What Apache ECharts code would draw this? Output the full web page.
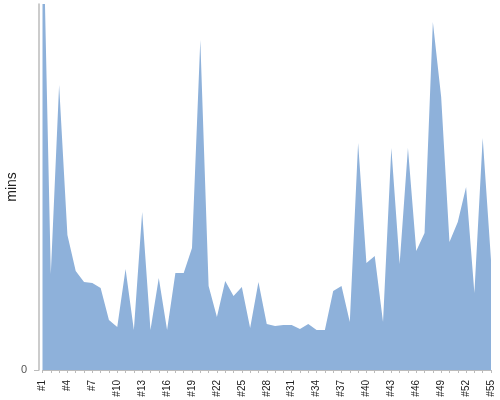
<!DOCTYPE html>
<html>
<head>
<meta charset="utf-8">
<script src="https://cdn.jsdelivr.net/npm/echarts@6/dist/echarts.min.js"></script>
<style>html,body{margin:0;padding:0;background:#fff;}#c{width:500px;height:400px;}</style>
</head>
<body>
<div id="c"></div>
<script>
var categories = [];
for (var i = 1; i <= 55; i++) categories.push('#' + i);
var values = [480, 96, 285, 135, 99, 88, 87, 82, 50, 43,
              101, 40, 158, 40, 92, 40, 97, 97, 122, 330,
              84, 53, 89, 74, 83, 42, 88, 46, 44, 45,
              45, 41, 46, 40, 40, 79, 84, 48, 227, 107,
              114, 48, 222, 106, 222, 119, 137, 348, 273, 128,
              148, 183, 77, 232, 110];
var yName = 'mins';
var chart = echarts.init(document.getElementById('c'));
chart.setOption({
  animation: false,
  grid: {left: 42.5, right: 9, top: 4, bottom: 30, containLabel: false, outerBoundsMode: 'none'},
  xAxis: {
    type: 'category',
    data: categories,
    boundaryGap: false,
    offset: 3,
    axisLine: {lineStyle: {color: '#bbbbbb', width: 1}},
    axisTick: {interval: 0, length: 3, lineStyle: {color: '#bbbbbb'}},
    axisLabel: {interval: 2, rotate: 90, fontSize: 10, margin: 7, color: '#222', fontFamily: 'Liberation Sans'}
  },
  yAxis: {
    type: 'value',
    min: 0, max: 366, interval: 366,
    offset: 3.5,
    name: yName,
    nameLocation: 'middle',
    nameGap: 20,
    nameMoveOverlap: false,
    nameTextStyle: {fontSize: 14, color: '#222', fontFamily: 'Liberation Sans'},
    axisLine: {show: true, lineStyle: {color: '#bbbbbb', width: 1.5}},
    axisTick: {show: true, length: 5, lineStyle: {color: '#bbbbbb'}, customValues: [0]},
    axisLabel: {fontSize: 11, color: '#555', margin: 12, fontFamily: 'Liberation Sans', customValues: [0]},
    splitLine: {show: false}
  },
  series: [{
    type: 'line',
    data: values,
    symbol: 'none',
    clip: true,
    lineStyle: {width: 0},
    areaStyle: {color: '#8eb1da', opacity: 1}
  }]
});
</script>
</body>
</html>
